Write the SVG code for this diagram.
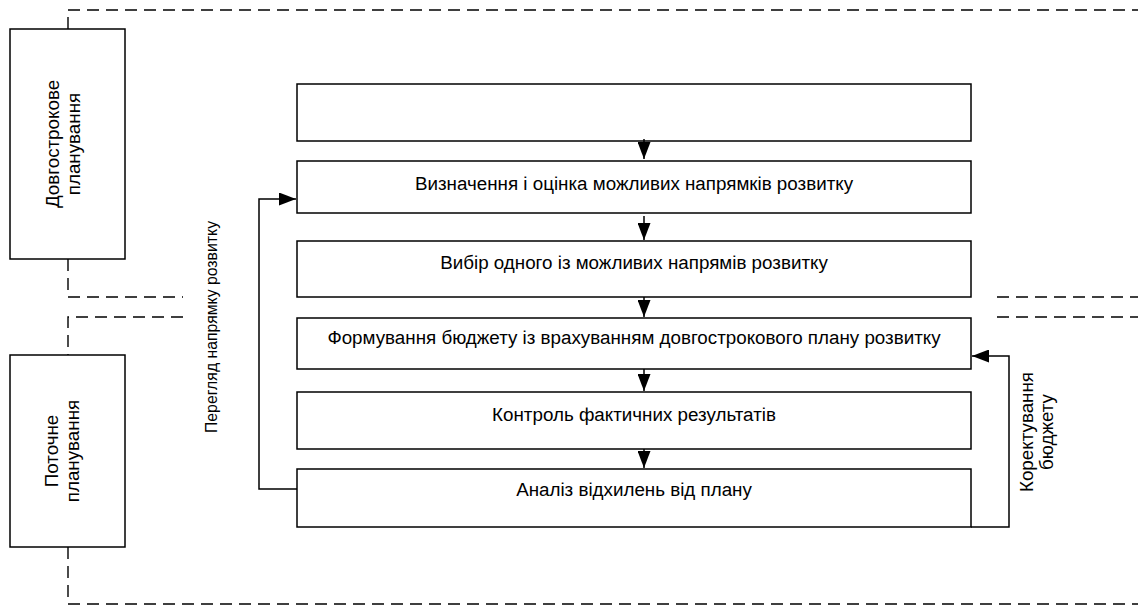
<svg xmlns="http://www.w3.org/2000/svg" width="1138" height="606" viewBox="0 0 1138 606">
<style>
.box{fill:#fff;stroke:#000;stroke-width:1.5}
.dash{fill:none;stroke:#000;stroke-width:1.4;stroke-dasharray:12 7}
.ln{fill:none;stroke:#000;stroke-width:1.5}
text{font-family:"Liberation Sans",Arial,sans-serif;font-size:18.8px;fill:#000}
.c{text-anchor:middle}
.s{font-size:15.8px}
</style>
<defs>
<marker id="ah" markerUnits="userSpaceOnUse" markerWidth="17" markerHeight="13" refX="17" refY="6.5" orient="auto">
<path d="M0,0 L17,6.5 L0,13 z" fill="#000"/>
</marker>
</defs>
<rect width="1138" height="606" fill="#fff"/>
<g id="frame">
<path class="dash" d="M68,29 V10 H1138"/>
<path class="dash" d="M68,259 V297 H183"/>
<path class="dash" d="M183,317 H68 V355"/>
<path class="dash" d="M68,547 V604 H1138"/>
<path class="dash" d="M997,297 H1138"/>
<path class="dash" d="M997,317 H1138"/>
</g>
<g id="long-term">
<rect class="box" x="10" y="29" width="115" height="230"/>
<text class="c" transform="translate(59,144) rotate(-90)">Довгострокове</text>
<text class="c" transform="translate(80,144) rotate(-90)">планування</text>
</g>
<g id="current">
<rect class="box" x="10" y="355" width="115" height="192"/>
<text class="c" transform="translate(58,451) rotate(-90)">Поточне</text>
<text class="c" transform="translate(79,451) rotate(-90)">планування</text>
</g>
<g id="n1"><rect class="box" x="297" y="84" width="674" height="57"/></g>
<g id="n2"><rect class="box" x="297" y="161" width="674" height="52"/>
<text class="c" x="634" y="190">Визначення і оцінка можливих напрямків розвитку</text></g>
<g id="n3"><rect class="box" x="297" y="241" width="674" height="56"/>
<text class="c" x="634" y="269">Вибір одного із можливих напрямів  розвитку</text></g>
<g id="n4"><rect class="box" x="297" y="318" width="674" height="51"/>
<text class="c" x="634" y="344">Формування бюджету із врахуванням довгострокового плану розвитку</text></g>
<g id="n5"><rect class="box" x="297" y="392" width="674" height="57"/>
<text class="c" x="634" y="421">Контроль фактичних результатів</text></g>
<g id="n6"><rect class="box" x="297" y="469" width="674" height="58"/>
<text class="c" x="634" y="496">Аналіз відхилень від плану</text></g>
<g id="connectors">
<line class="ln" x1="644" y1="139" x2="644" y2="159" marker-end="url(#ah)"/>
<line class="ln" x1="644" y1="216" x2="644" y2="240" marker-end="url(#ah)"/>
<line class="ln" x1="644" y1="297" x2="644" y2="317" marker-end="url(#ah)"/>
<line class="ln" x1="644" y1="369" x2="644" y2="391" marker-end="url(#ah)"/>
<line class="ln" x1="644" y1="449" x2="644" y2="468" marker-end="url(#ah)"/>
<path class="ln" d="M297,489 H259 V199 H296" marker-end="url(#ah)"/>
<path class="ln" d="M971,527 H1009 V356 H972" marker-end="url(#ah)"/>
<text class="c s" transform="translate(217,327) rotate(-90)">Перегляд напрямку розвитку</text>
<text class="c" transform="translate(1033,432) rotate(-90)">Коректування</text>
<text class="c" transform="translate(1053,432) rotate(-90)">бюджету</text>
</g>
</svg>
